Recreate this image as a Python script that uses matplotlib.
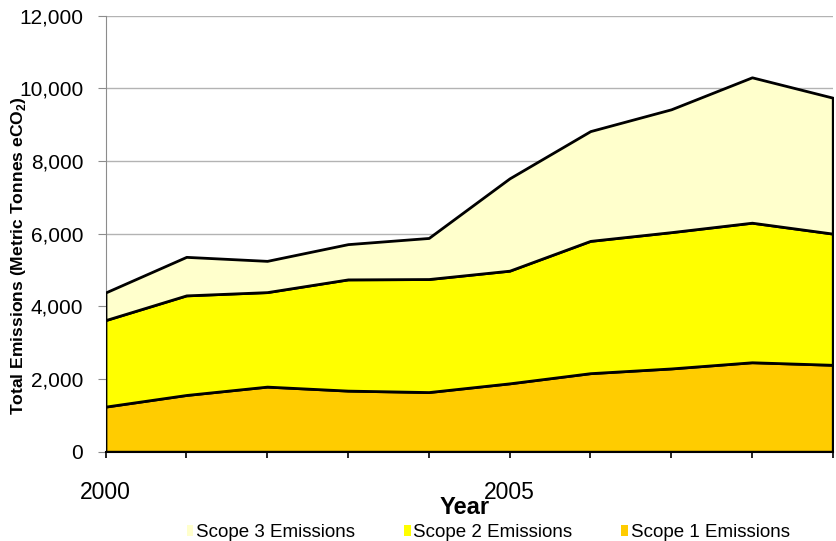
import matplotlib
matplotlib.use('Agg')
import matplotlib.pyplot as plt
from matplotlib.patches import Patch
from matplotlib.ticker import FuncFormatter, MultipleLocator

plt.rcParams['font.family'] = ['Liberation Sans', 'DejaVu Sans']
plt.rcParams['mathtext.fontset'] = 'custom'
plt.rcParams['mathtext.rm'] = 'Liberation Sans'
plt.rcParams['mathtext.bf'] = 'Liberation Sans:bold'

# Annual emissions by scope (metric tonnes eCO2)
years = [2000, 2001, 2002, 2003, 2004, 2005, 2006, 2007, 2008, 2009]
scope1 = [1240, 1560, 1790, 1680, 1640, 1880, 2160, 2290, 2460, 2390]
scope2 = [2380, 2740, 2600, 3060, 3110, 3100, 3640, 3750, 3840, 3610]
scope3 = [760, 1060, 860, 970, 1130, 2540, 3020, 3380, 4000, 3740]

labels = ['Scope 1 Emissions', 'Scope 2 Emissions', 'Scope 3 Emissions']
colors = ['#FFCC00', '#FFFF00', '#FFFFCC']

fig = plt.figure(figsize=(8.36, 5.41), dpi=100)
ax = fig.add_axes([0.1262, 0.1651, 0.8699, 0.8062])

ax.stackplot(years, scope1, scope2, scope3, colors=colors,
             edgecolor='black', linewidth=2.0, zorder=3)

ax.set_xlim(2000, 2009)
ax.set_ylim(0, 12000)
ax.yaxis.set_major_locator(MultipleLocator(2000))
ax.yaxis.set_major_formatter(FuncFormatter(lambda v, p: f'{int(v):,}'))
ax.grid(axis='y', color='#b3b3b3', linewidth=1, zorder=0)
ax.set_axisbelow(True)

ax.set_xticks([2000, 2005])
ax.set_xticklabels(['2000', '2005'])
ax.set_xticks(years, minor=True)

for s in ['top', 'right']:
    ax.spines[s].set_visible(False)
ax.spines['left'].set_color('#8c8c8c')
ax.spines['bottom'].set_color('black')
ax.spines['bottom'].set_linewidth(1.5)

ax.tick_params(axis='y', length=6, color='#8c8c8c', labelsize=15, pad=10)
ax.tick_params(axis='x', which='both', length=4, color='black', width=1.2,
               labelsize=16.5, pad=17)

ax.set_ylabel(r'Total Emissions (Metric Tonnes eCO$_\mathbf{2}$)',
              fontsize=12.6, fontweight='bold')
ax.yaxis.set_label_coords(-0.106, 0.45)
fig.text(0.556, 0.062, 'Year', fontsize=17, fontweight='bold',
         ha='center', va='center')

handles = [Patch(facecolor=c, edgecolor='none') for c in colors[::-1]]
fig.legend(handles, labels[::-1], loc='center', ncol=3,
           bbox_to_anchor=(0.584, 0.016), frameon=False, fontsize=13.5,
           handlelength=0.35, handleheight=0.5, handletextpad=0.15,
           columnspacing=2.6)

fig.savefig('out.png', dpi=100)
